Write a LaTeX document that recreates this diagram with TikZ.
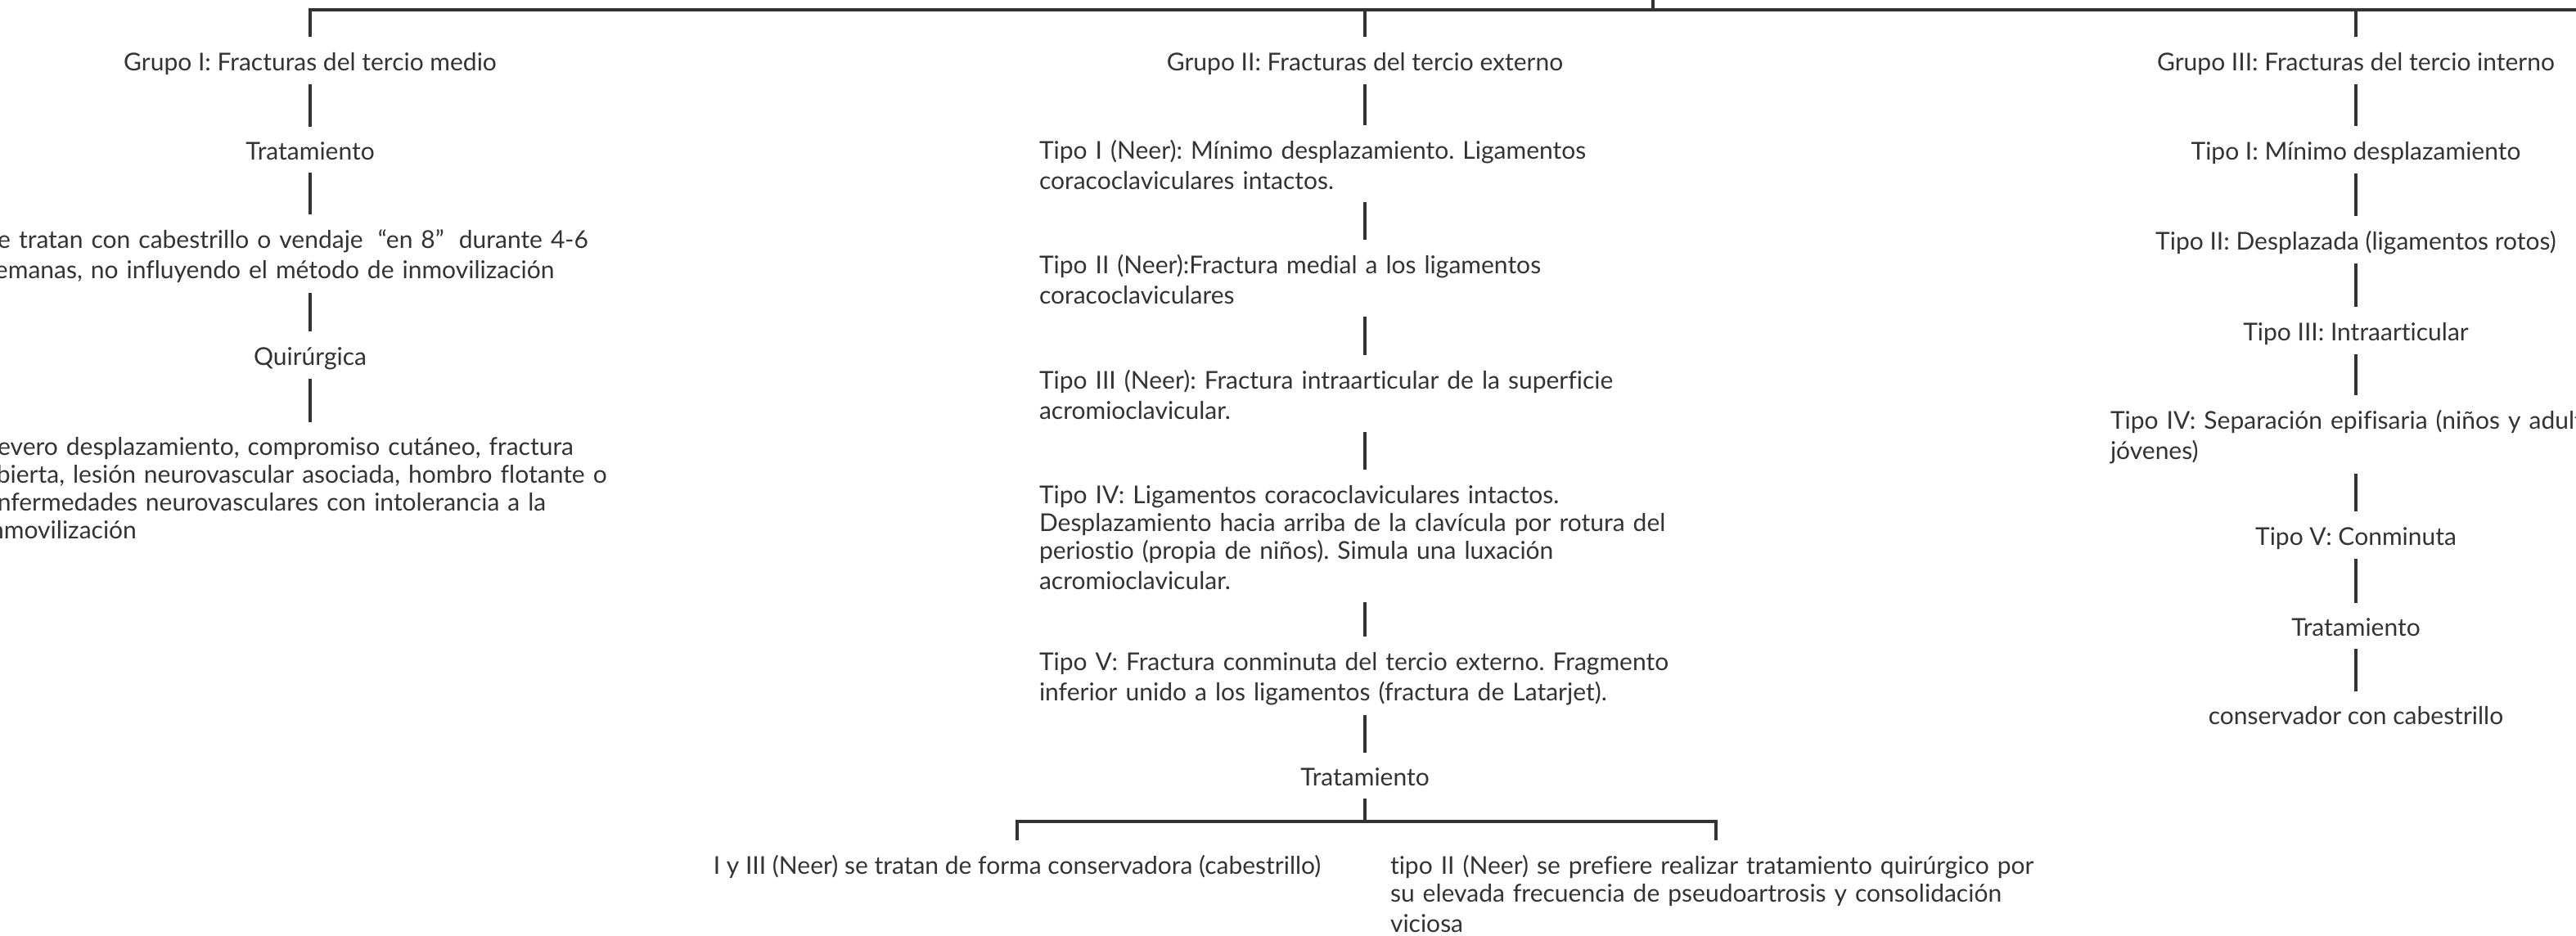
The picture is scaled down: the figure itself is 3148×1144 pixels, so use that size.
\documentclass[tikz,border=0pt]{standalone}
\usepackage{fontspec}
\setmainfont{Lato}[Ligatures={NoCommon}]
\frenchspacing
\definecolor{inkgray}{HTML}{333333}
\newcommand{\lowstrut}{\rule[-2.1pt]{0pt}{17pt}}
\tikzset{
  link/.style={draw=inkgray, line width=2pt},
  leaf/.style={text=inkgray, font=\fontsize{15}{17}\selectfont,
    inner xsep=0pt, inner ysep=5.5pt,
    execute at begin node=\lowstrut, execute at end node=\lowstrut},
  para/.style={leaf, text width=398pt, align=left},
  narrow/.style={leaf, text width=300pt, align=left},
}
\begin{document}
\begin{tikzpicture}[x=0.5pt, y=-0.5pt]
  \useasboundingbox (0,0) rectangle (3148,1144);

  % Grupo I
  \node[leaf] (g1) at (379,74) {Grupo I: Fracturas del tercio medio};
  \node[leaf] (g1trat) at (379,183) {Tratamiento};
  \node[para] (g1cons) at (379,310) {Se tratan con cabestrillo o vendaje\hspace{0.6em}“en 8”\hspace{0.6em}durante 4-6\\
    semanas, no influyendo el método de inmovilización};
  \node[leaf] (g1quir) at (379,434) {Quirúrgica};
  \node[para] (g1surg) at (379,595) {Severo desplazamiento, compromiso cutáneo, fractura\\
    abierta, lesión neurovascular asociada, hombro flotante o\\
    enfermedades neurovasculares con intolerancia a la\\
    inmovilización};

  % Grupo II
  \node[leaf] (g2) at (1668,74) {Grupo II: Fracturas del tercio externo};
  \node[para] (n1) at (1668,200) {Tipo I (Neer): Mínimo desplazamiento. Ligamentos\\
    coracoclaviculares intactos.};
  \node[para] (n2) at (1668,340) {Tipo II (Neer):Fractura medial a los ligamentos\\
    coracoclaviculares};
  \node[para] (n3) at (1668,481) {Tipo III (Neer): Fractura intraarticular de la superficie\\
    acromioclavicular.};
  \node[para] (n4) at (1668,655) {Tipo IV: Ligamentos coracoclaviculares intactos.\\
    Desplazamiento hacia arriba de la clavícula por rotura del\\
    periostio (propia de niños). Simula una luxación\\
    acromioclavicular.};
  \node[para] (n5) at (1668,826) {Tipo V: Fractura conminuta del tercio externo. Fragmento\\
    inferior unido a los ligamentos (fractura de Latarjet).};
  \node[leaf] (g2trat) at (1668,948) {Tratamiento};
  \node[leaf] (c1) at (1243,1056) {I y III (Neer) se tratan de forma conservadora (cabestrillo)};
  \node[para] (c2) at (2097,1091) {tipo II (Neer) se prefiere realizar tratamiento quirúrgico por\\
    su elevada frecuencia de pseudoartrosis y consolidación\\
    viciosa};

  % Grupo III
  \node[leaf] (g3) at (2879,74) {Grupo III: Fracturas del tercio interno};
  \node[leaf] (m1) at (2879,183) {Tipo I: Mínimo desplazamiento};
  \node[leaf] (m2) at (2879,293) {Tipo II: Desplazada (ligamentos rotos)};
  \node[leaf] (m3) at (2879,404) {Tipo III: Intraarticular};
  \node[narrow] (m4) at (2879,531) {\mbox{Tipo IV: Separación epifisaria (niños y adultos}\\
    jóvenes)};
  \node[leaf] (m5) at (2879,654) {Tipo V: Conminuta};
  \node[leaf] (g3trat) at (2879,765) {Tratamiento};
  \node[leaf] (m6) at (2879,873) {conservador con cabestrillo};

  % top bar
  \coordinate (hub) at (2020,12);
  \coordinate (up) at (2020,-10);
  \coordinate (farright) at (3200,12);
  \draw[link] (g1.north) |- (farright);
  \draw[link] (up) -- (hub);
  \draw[link] (g2.north |- hub) -- (g2.north);
  \draw[link] (g3.north |- hub) -- (g3.north);

  % chains
  \foreach \a/\b in {g1/g1trat, g1trat/g1cons, g1cons/g1quir, g1quir/g1surg,
      g2/n1, n1/n2, n2/n3, n3/n4, n4/n5, n5/g2trat,
      g3/m1, m1/m2, m2/m3, m3/m4, m4/m5, m5/g3trat, g3trat/m6}
    \draw[link] (\a.south) -- (\b.north);

  % bottom fork
  \coordinate (fork) at (1668,1004);
  \draw[link] (g2trat.south) -- (fork);
  \draw[link] (c1.north) |- (fork) -| (c2.north);
\end{tikzpicture}
\end{document}
